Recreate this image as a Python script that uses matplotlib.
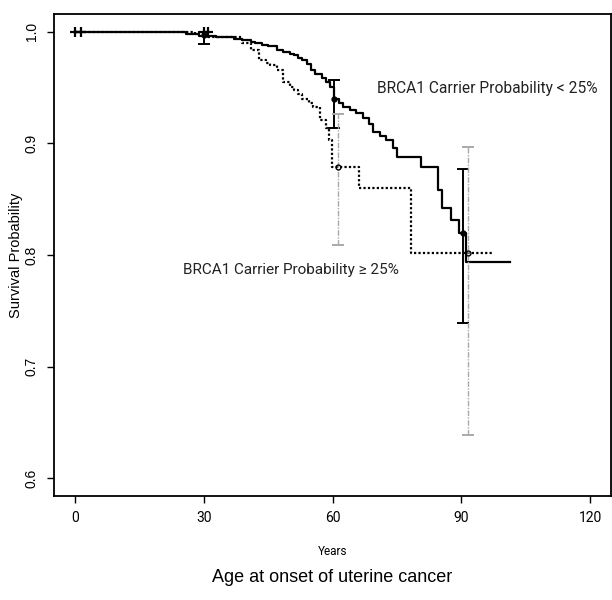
import matplotlib
matplotlib.use('Agg')

import numpy as np
import matplotlib.pyplot as plt

plt.rcParams['font.family'] = ['Liberation Sans', 'DejaVu Sans']

# Kaplan-Meier step curves
low_t = [0, 26, 29, 33, 37, 39, 41, 42, 43.5, 45, 47, 48.5, 50, 51, 52, 53,
         54, 55, 56, 57.5, 58.5, 59.5, 60.3, 61.5, 62.5, 64, 65.5, 67, 68.5,
         69.5, 71, 72.5, 74, 75, 80.5, 84.5, 85.5, 87.5, 89.5, 91, 101.3]
low_s = [1.0, 0.998, 0.996, 0.995, 0.994, 0.993, 0.991, 0.990, 0.988, 0.987,
         0.984, 0.982, 0.980, 0.979, 0.977, 0.975, 0.971, 0.966, 0.962, 0.959,
         0.955, 0.951, 0.940, 0.936, 0.933, 0.930, 0.927, 0.923, 0.917, 0.910,
         0.907, 0.903, 0.896, 0.888, 0.879, 0.858, 0.842, 0.831, 0.820, 0.794,
         0.794]

high_t = [0, 28, 31, 39, 41, 43, 44.5, 45.5, 47, 48.5, 50, 51, 52, 53, 54.5,
          55.5, 57, 58.5, 59.2, 59.8, 66.2, 78.3, 97]
high_s = [1.0, 0.998, 0.995, 0.990, 0.984, 0.975, 0.972, 0.970, 0.966, 0.955,
          0.951, 0.948, 0.944, 0.940, 0.936, 0.933, 0.921, 0.914, 0.903, 0.879,
          0.860, 0.802, 0.802]

# confidence intervals at 30 / 60 / 90 years
low_ci_t = [30, 60.3, 90.4]
low_ci_est = [0.997, 0.940, 0.820]
low_ci_lo = [0.989, 0.914, 0.739]
low_ci_hi = [1.0, 0.957, 0.877]

high_ci_t = [61.3, 91.5]
high_ci_est = [0.879, 0.802]
high_ci_lo = [0.809, 0.639]
high_ci_hi = [0.926, 0.897]

censor_t = [0, 1.5, 30, 31]
censor_s = [1.0, 1.0, 1.0, 1.0]

xticks = [0, 30, 60, 90, 120]
yticks = [0.6, 0.7, 0.8, 0.9, 1.0]

narrow = ['Roboto', 'DejaVu Sans']

fig = plt.figure(figsize=(6.12, 6.0), dpi=100)
ax = fig.add_axes([54 / 612, 1 - 496 / 600, 557 / 612, 482 / 600])

ax.step(low_t, low_s, where='post', color='black', lw=1.6)
ax.step(high_t, high_s, where='post', color='black', lw=1.6, ls=(0, (1, 1)))

ax.errorbar(low_ci_t, low_ci_est,
            yerr=[np.subtract(low_ci_est, low_ci_lo), np.subtract(low_ci_hi, low_ci_est)],
            fmt='o', ms=3.5, color='black', ecolor='black', elinewidth=1.4,
            capsize=4, capthick=1.4)
ax.errorbar(high_ci_t, high_ci_est,
            yerr=[np.subtract(high_ci_est, high_ci_lo), np.subtract(high_ci_hi, high_ci_est)],
            fmt='o', ms=3.5, mfc='none', mec='black', color='black',
            ecolor='#aaaaaa', elinewidth=1.0, capsize=4, capthick=1.4)
for lc in ax.collections[-1:]:
    lc.set_linestyle((0, (4, 1, 1, 1)))

ax.plot(censor_t, censor_s, ls='none', marker='+', ms=7, mew=1.6, color='black')

ax.text(0.777, 0.846, 'BRCA1 Carrier Probability < 25%', transform=ax.transAxes,
        ha='center', va='center', fontsize=11.2, family=narrow, color='#222222')
ax.text(0.425, 0.468, 'BRCA1 Carrier Probability \u2265 25%', transform=ax.transAxes,
        ha='center', va='center', fontsize=11, family=narrow, color='#222222')

ax.set_xlim(-4.8, 124.8)
ax.set_ylim(0.584, 1.016)
ax.set_xticks(xticks)
ax.set_xticklabels([str(v) for v in xticks], family=narrow, fontsize=10)
ax.set_yticks(yticks)
ax.set_yticklabels([f'{v:.1f}' for v in yticks], rotation=90, va='center',
                   fontsize=10)
ax.tick_params(direction='out', length=5, width=1, pad=6)
for sp in ax.spines.values():
    sp.set_linewidth(1.3)

ax.set_xlabel('Years', family=narrow, fontsize=8.5, labelpad=14)
ax.set_ylabel('Survival Probability', fontsize=10.5, labelpad=1)
fig.text(332 / 612, 1 - 577 / 600, 'Age at onset of uterine cancer',
         ha='center', va='center', fontsize=13)

fig.savefig('out.png', dpi=100)
